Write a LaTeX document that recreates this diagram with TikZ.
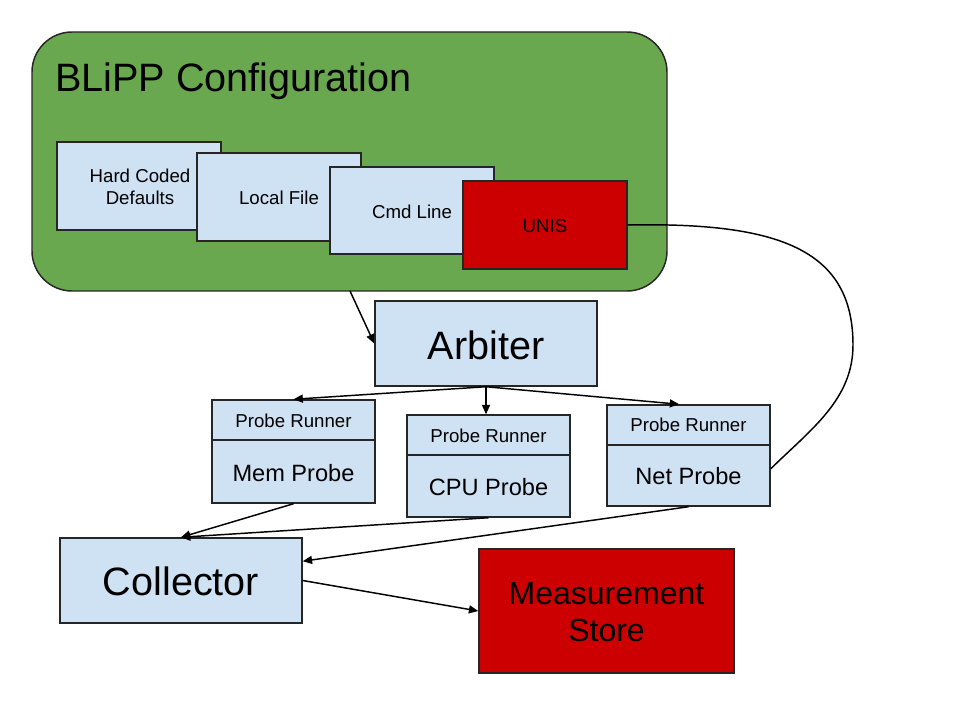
\documentclass[tikz,border=0pt]{standalone}
\usepackage{fontspec}
\setmainfont{Liberation Sans}
\usetikzlibrary{arrows.meta,fit}
\definecolor{cfggreen}{HTML}{6AA84F}
\definecolor{lblue}{HTML}{CFE2F3}
\definecolor{dred}{HTML}{CC0000}
\tikzset{
  box/.style={draw=black!85, line width=1.1pt, fill=lblue, inner sep=0pt, align=center},
  redbox/.style={box, fill=dred},
  arr/.style={line width=1.1pt, -{Triangle[length=7pt,width=6pt]}},
  conn/.style={line width=1.1pt},
  small/.style={font=\fontsize{14}{16.5}\selectfont},
  med/.style={font=\fontsize{17.7}{20}\selectfont},
  big/.style={font=\fontsize{29.7}{33}\selectfont},
}
\begin{document}
\begin{tikzpicture}[x=0.75pt,y=-0.75pt]
\useasboundingbox (0,0) rectangle (960,720);
% configuration group
\node[draw=black!85, line width=1.1pt, fill=cfggreen, rounded corners=30pt, inner sep=0pt, fit={(32,32) (667,291)}] (cfg) {};
\node[big, anchor=base west, inner sep=0pt] (title) at (55,92) {BLiPP Configuration};
\node[box, small, fit={(57,142) (221,230)}] (hcd) {};
\node[small, align=center] (hcdt) at (140,187) {Hard Coded\\Defaults};
\node[box, small, fit={(197,153) (361,241)}] (lf) {};
\node[small] (lft) at (279,198) {Local File};
\node[box, small, fit={(330,167) (494,254)}] (cmd) {};
\node[small] (cmdt) at (412,212) {Cmd Line};
\node[redbox, small, fit={(463,181) (627,269)}] (unis) {};
\node[small] (unist) at (545,226) {UNIS};
% arbiter
\node[box, fit={(375,301) (597,386)}] (arb) {};
\node[big] (arbt) at (486,345) {Arbiter};
% probes
\node[box, fit={(212,400) (375,440)}] (memh) {};
\node[small] (memht) at (293.5,421) {Probe Runner};
\node[box, fit={(212,440) (375,503)}] (memb) {};
\node[med] (membt) at (293.5,473) {Mem Probe};
\node[box, fit={(407,415) (570,455)}] (cpuh) {};
\node[small] (cpuht) at (488.5,436) {Probe Runner};
\node[box, fit={(407,455) (570,517)}] (cpub) {};
\node[med] (cpubt) at (488.5,487) {CPU Probe};
\node[box, fit={(607,405) (770,445)}] (neth) {};
\node[small] (netht) at (688.5,425) {Probe Runner};
\node[box, fit={(607,445) (770,506)}] (netb) {};
\node[med] (netbt) at (688.5,476) {Net Probe};
% collector and store
\node[box, fit={(60,538) (302,623)}] (coll) {};
\node[big] (collt) at (181,581) {Collector};
\node[redbox, fit={(479,549) (734,673)}] (ms) {};
\node[font=\fontsize{24}{27.75}\selectfont, align=center] (mst) at (606.5,612) {Measurement\\Store};
% connectors
\coordinate (cfgout) at (350,291);
\draw[arr] (cfgout) -- (arb.west);
\draw[arr] (arb.south) -- (memh.north);
\draw[arr] (arb.south) -- (arb.south |- cpuh.north);
\draw[arr] (arb.south) -- ([xshift=-7pt]neth.north);
\draw[arr] (memb.south) -- (coll.north);
\draw[arr] (cpub.south) -- (coll.north);
\draw[arr] (netb.south) -- (coll.9);
\draw[arr] (coll.east) -- (ms.west);
\draw[conn] (unis.east) .. controls (780,222) and (853,250) .. (853,345) .. controls (853,400) and (810,430) .. ([yshift=5pt]netb.east);
\end{tikzpicture}
\end{document}
